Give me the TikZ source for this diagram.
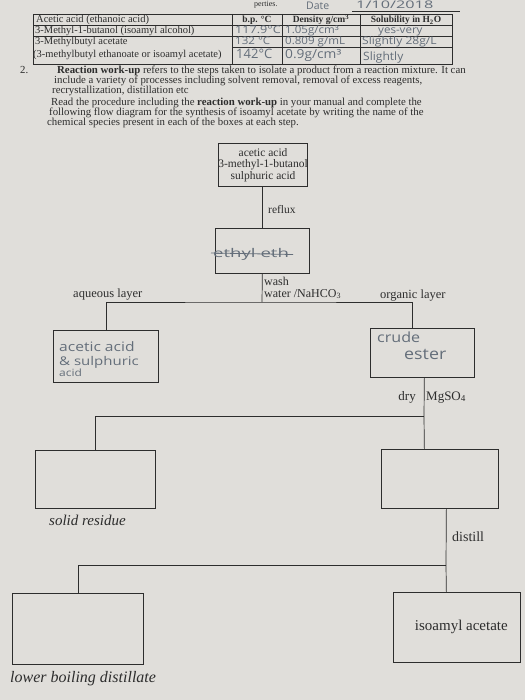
\documentclass[tikz,border=0pt]{standalone}
\usepackage{fontspec}
\setmainfont{Liberation Serif}
\newfontfamily\hand{Open Sans}
\definecolor{paper}{RGB}{224,222,218}
\definecolor{ink}{RGB}{45,45,45}
\definecolor{pencil}{RGB}{100,110,122}
\begin{document}
\begin{tikzpicture}[x=1pt,y=-1pt,
  box/.style={draw=ink, line width=0.7pt, inner sep=0pt, anchor=north west},
  conn/.style={draw=ink, line width=0.7pt},
  tline/.style={draw=ink, line width=0.6pt},
  lbl/.style={inner sep=0pt, anchor=base west, text=ink},
  hw/.style={inner sep=0pt, anchor=base west, text=pencil, font=\hand\fontsize{#1}{#1}\selectfont},
  hw/.default=11,
  fs/.style={font=\fontsize{#1}{#1}\selectfont}
]
\fill[paper] (0,0) rectangle (525,700);
\useasboundingbox (0,0) rectangle (525,700);

\node[lbl, fs=8] (cut) at (254,7) {perties.};

% ---------- table ----------
\draw[tline] (33,14) rectangle (452,64);
\draw[tline] (33,25) -- (452,25);
\draw[tline] (33,36) -- (452,36);
\draw[tline] (232,47) -- (452,47);
\draw[tline] (232,14) -- (232,64);
\draw[tline] (282,14) -- (282,64);
\draw[tline] (360,14) -- (360,64);

\node[lbl, fs=10.5] (t1) at (36,23) {Acetic acid (ethanoic acid)};
\node[lbl, fs=10.5] (t2) at (35,34) {3-Methyl-1-butanol (isoamyl alcohol)};
\node[lbl, fs=10.5] (t3) at (35,45) {3-Methylbutyl acetate};
\node[lbl, fs=10.5] (t4) at (33,58) {(3-methylbutyl ethanoate or isoamyl acetate)};

\node[lbl, fs=9.5, anchor=base] (h1) at (257,23) {\textbf{b.p. °C}};
\node[lbl, fs=9.5, anchor=base] (h2) at (321,23) {\textbf{Density g/cm\textsuperscript{3}}};
\node[lbl, fs=9.5, anchor=base] (h3) at (406,23) {\textbf{Solubility in H\textsubscript{2}O}};

\node[hw=10.5] (d11) at (235,34) {\scalebox{1.2}[1]{117.9°C}};
\node[hw=10.5] (d12) at (285,34) {\scalebox{1.1}[1]{1.05g/cm³}};
\node[hw=10.5] (d13) at (378,34) {\scalebox{1.1}[1]{yes-very}};
\node[hw=10.5] (d21) at (235,45) {\scalebox{1.1}[1]{132 °C}};
\node[hw=10.5] (d22) at (285,45) {\scalebox{1.1}[1]{0.809 g/mL}};
\node[hw=10.5] (d23) at (362,45) {\scalebox{1.15}[1]{Slightly 28g/L}};
\node[hw=13] (d31) at (236,59) {142°C};
\node[hw=12.5] (d32) at (285,59) {\scalebox{1.1}[1]{0.9g/cm³}};
\node[hw=11.5] (d33) at (363,61) {\scalebox{1.05}[1]{Slightly}};

% date
\node[hw=10.5] (date) at (306,9.5) {Date};
\node[hw=10.5] (dval) at (356,9) {\scalebox{1.55}[1]{1/10/2018}};
\draw[tline] (352,11.5) -- (460,11.5);

% ---------- paragraph ----------
\node[lbl, fs=10.8] (num) at (20,74) {2.};
\node[lbl, fs=10.8] (p1) at (57,74) {\textbf{Reaction work-up} refers to the steps taken to isolate a product from a reaction mixture. It can};
\node[lbl, fs=10.8] (p2) at (54,84) {include a variety of processes including solvent removal, removal of excess reagents,};
\node[lbl, fs=10.8] (p3) at (52,94) {recrystallization, distillation etc};
\node[lbl, fs=10.8] (p4) at (51,106) {Read the procedure including the \textbf{reaction work-up} in your manual and complete the};
\node[lbl, fs=10.8] (p5) at (49,116) {following flow diagram for the synthesis of isoamyl acetate by writing the name of the};
\node[lbl, fs=10.8] (p6) at (47,126) {chemical species present in each of the boxes at each step.};

% ---------- flow diagram boxes ----------
\node[box, minimum width=89pt, minimum height=43pt, align=center, font=\fontsize{11.5}{11.5}\selectfont, text=ink] (A) at (218,143) {acetic acid\\3-methyl-1-butanol\\sulphuric acid};
\node[box, minimum width=94pt, minimum height=45pt] (B) at (215,228) {};
\node[box, minimum width=105pt, minimum height=52pt] (C) at (53,330) {};
\node[box, minimum width=104pt, minimum height=49pt] (D) at (370,328) {};
\node[box, minimum width=120pt, minimum height=58pt] (E) at (35,450) {};
\node[box, minimum width=117pt, minimum height=59pt] (F) at (381,449) {};
\node[box, minimum width=131pt, minimum height=71pt] (H) at (12,593) {};
\node[box, minimum width=127pt, minimum height=70pt, font=\fontsize{15}{15}\selectfont, text=ink] (G) at (393,592) {\hspace*{9pt}isoamyl acetate};

% handwriting in boxes
\node[hw=12] (bt) at (213,258) {\scalebox{1.55}[1]{ethyl eth}};
\draw[pencil, line width=0.8pt] (211,253) -- (293,254.5);
\node[hw=13] (c1) at (59,351) {\scalebox{1.2}[1]{acetic acid}};
\node[hw=12] (c2) at (59,365) {\scalebox{1.25}[1]{\& sulphuric}};
\node[hw=10] (c3) at (59,376) {\scalebox{1.2}[1]{acid}};
\node[hw=14] (d1) at (377,342) {\scalebox{1.15}[1]{crude}};
\node[hw=15.5] (d2) at (404,359) {\scalebox{1.15}[1]{ester}};

% ---------- connectors ----------
\coordinate (j1) at (262,302);
\coordinate (j2) at (424,416);
\coordinate (j3) at (446,565);
\draw[conn] (A.south -| B.north) -- (B.north);
\draw[conn] (B.south) -- (j1);
\draw[conn] (C.north) |- (j1) -| ([xshift=-10pt]D.north);
\draw[conn] ([xshift=2pt]D.south) -- (j2) -- ([xshift=-15.5pt]F.north);
\draw[conn] (E.north) |- (j2);
\draw[conn] ([xshift=6.5pt]F.south) -- (j3) -- ([xshift=-10.5pt]G.north);
\draw[conn] (H.north) |- (j3);

% ---------- labels ----------
\node[lbl, fs=11.5] (reflux) at (268,214) {reflux};
\node[lbl, fs=12] (wash) at (264,285) {wash};
\node[lbl, fs=12] (water) at (264,297) {water /NaHCO\textsubscript{3}};
\node[lbl, fs=12.5] (aq) at (73,297) {aqueous layer};
\node[lbl, fs=12.5] (org) at (380,298) {organic layer};
\node[lbl, fs=13, anchor=base east] (dry) at (416,400) {dry};
\node[lbl, fs=13] (mg) at (426,400) {MgSO\textsubscript{4}};
\node[lbl, font=\itshape\fontsize{15}{15}\selectfont] (solid) at (49,525) {solid residue};
\node[lbl, fs=14] (dist) at (452,541) {distill};
\node[lbl, font=\itshape\fontsize{16}{16}\selectfont] (low) at (10,682) {lower boiling distillate};
\end{tikzpicture}
\end{document}
